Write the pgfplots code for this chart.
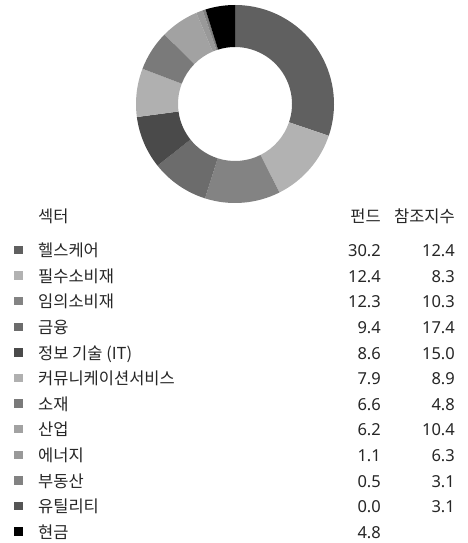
\documentclass[border=0pt]{standalone}
\usepackage{pgfplots}
\pgfplotsset{compat=1.18}
\usepackage{fontspec}
\setmainfont{Noto Sans CJK KR}
\newfontfamily\num[Numbers=Monospaced]{Noto Sans}
\definecolor{c1}{HTML}{606060}
\definecolor{c2}{HTML}{B2B2B2}
\definecolor{c3}{HTML}{838383}
\definecolor{c4}{HTML}{6C6C6C}
\definecolor{c5}{HTML}{4A4A4A}
\definecolor{c6}{HTML}{B0B0B0}
\definecolor{c7}{HTML}{7A7A7A}
\definecolor{c8}{HTML}{A2A2A2}
\definecolor{c9}{HTML}{999999}
\definecolor{c10}{HTML}{828282}
\definecolor{c11}{HTML}{555555}
\definecolor{c12}{HTML}{000000}
\definecolor{txt}{HTML}{262626}
\begin{document}
\begin{tikzpicture}[x=1bp,y=1bp]
\useasboundingbox (0,0) rectangle (468,-543);
\begin{axis}[at={(235bp,-104bp)}, anchor=center, x=1bp, y=1bp,
  xmin=-100, xmax=100, ymin=-100, ymax=100, hide axis, clip=false]
  \xdef\a{90}
  \foreach \v/\c in {30.2/c1,12.4/c2,12.3/c3,9.4/c4,8.6/c5,7.9/c6,6.6/c7,6.2/c8,1.1/c9,0.5/c10,0.0/c11,4.8/c12}{
    \pgfmathsetmacro\b{\a-3.6*\v}
    \edef\temp{\noexpand\fill[\c] (axis cs:0,0) ++(\a:99bp) arc[start angle=\a,end angle=\b,radius=99bp] -- ([shift={(\b:57bp)}]axis cs:0,0) arc[start angle=\b,end angle=\a,radius=57bp] -- cycle;}
    \temp
    \xdef\a{\b}
  }
\end{axis}
\fontsize{16.5bp}{20bp}\selectfont
\node[anchor=base west, inner sep=0, text=txt] at (38,-222.5) {섹터};
\node[anchor=base east, inner sep=0, text=txt] at (381,-222.5) {펀드};
\node[anchor=base east, inner sep=0, text=txt] at (455,-222.5) {참조지수};
\foreach \i/\n/\f/\r/\c in {0/헬스케어/30.2/12.4/c1,1/필수소비재/12.4/8.3/c2,2/임의소비재/12.3/10.3/c3,3/금융/9.4/17.4/c4,4/정보 기술 (IT)/8.6/15.0/c5,5/커뮤니케이션서비스/7.9/8.9/c6,6/소재/6.6/4.8/c7,7/산업/6.2/10.4/c8,8/에너지/1.1/6.3/c9,9/부동산/0.5/3.1/c10,10/유틸리티/0.0/3.1/c11,11/현금/4.8//c12}{
  \pgfmathsetmacro\yy{-256.7-25.6*\i}
  \node[anchor=base west, inner sep=0] at (14,\yy+2.5) {\textcolor{\c}{\rule{8.5bp}{8.5bp}}};
  \node[anchor=base west, inner sep=0, text=txt] at (38,\yy) {\n};
  \node[anchor=base east, inner sep=0, text=txt, font=\num\fontsize{16.5bp}{20bp}\selectfont] at (381,\yy) {\f};
  \node[anchor=base east, inner sep=0, text=txt, font=\num\fontsize{16.5bp}{20bp}\selectfont] at (455,\yy) {\r};
}
\end{tikzpicture}
\end{document}
